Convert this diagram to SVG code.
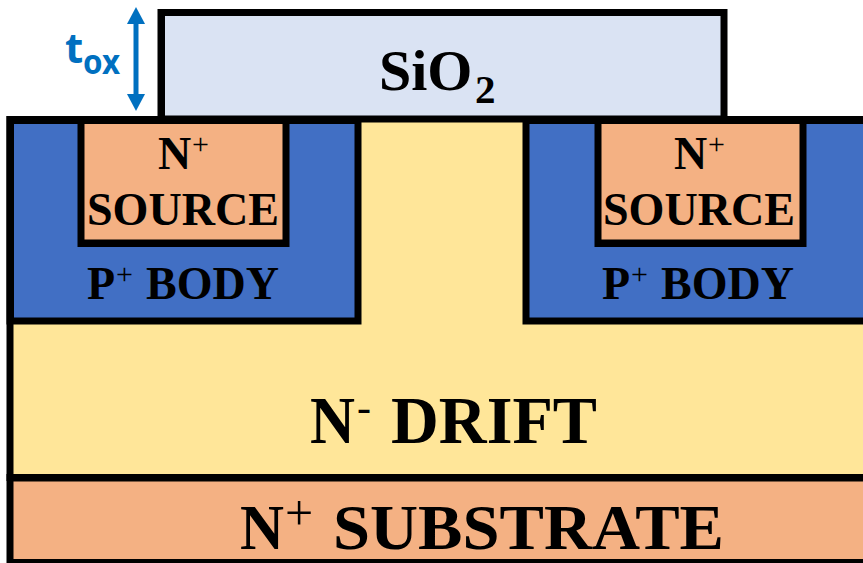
<svg xmlns="http://www.w3.org/2000/svg" width="863" height="563" viewBox="0 0 863 563">
<style>
.s{font-family:"Liberation Serif","Times New Roman",serif;font-weight:bold;fill:#000}
.t{font-weight:normal}
.k{fill:#000}
.b{fill:#416FC4}
.o{fill:#F4B183}
.y{fill:#FFE699}
.g{fill:#DAE3F3}
</style>
<defs>
<marker id="head" markerUnits="userSpaceOnUse" markerWidth="18" markerHeight="18" refX="0" refY="9" orient="auto-start-reverse" viewBox="0 0 18 18">
<path d="M0 0L17 9L0 18Z" fill="#0070C0"/>
</marker>
</defs>
<rect width="863" height="563" fill="#fff"/>
<g id="substrate">
<rect class="k" x="6.500" y="474" width="856.500" height="89"/>
<rect class="o" x="13.500" y="481.500" width="849.500" height="77.500"/>
<text class="s" y="549" font-size="63"><tspan x="240" textLength="44" lengthAdjust="spacingAndGlyphs">N</tspan><tspan class="t" x="285" dy="-19" font-size="50">+ </tspan><tspan x="333" dy="19" textLength="391" lengthAdjust="spacingAndGlyphs">SUBSTRATE</tspan></text>
</g>
<g id="drift">
<rect class="k" x="6.500" y="116" width="856.500" height="365"/>
<rect class="y" x="13.500" y="122.500" width="849.500" height="351.500"/>
<text class="s" y="443" font-size="68"><tspan x="310" textLength="45" lengthAdjust="spacingAndGlyphs">N</tspan><tspan class="t" x="357" dy="-22" font-size="42">- </tspan><tspan x="391" dy="22" textLength="206" lengthAdjust="spacingAndGlyphs">DRIFT</tspan></text>
</g>
<g id="body-left">
<rect class="k" x="6.500" y="116" width="355" height="208.500"/>
<rect class="b" x="14" y="124" width="340.500" height="193.500"/>
<text class="s" y="299" font-size="46"><tspan x="87">P</tspan><tspan class="t" x="116" dy="-15" font-size="30">+ </tspan><tspan x="146" dy="15">BODY</tspan></text>
</g>
<g id="source-left">
<rect class="k" x="77.500" y="120" width="212" height="127"/>
<rect class="o" x="84.500" y="124" width="198" height="115.500"/>
<text class="s" y="169" font-size="46"><tspan x="158">N</tspan><tspan class="t" x="192" dy="-15" font-size="30">+</tspan></text>
<text class="s" x="87" y="225" font-size="46" textLength="192" lengthAdjust="spacingAndGlyphs">SOURCE</text>
</g>
<g id="body-right">
<rect class="k" x="522.500" y="116" width="340.500" height="208.500"/>
<rect class="b" x="529.500" y="124" width="333.500" height="193.500"/>
<text class="s" y="299" font-size="46"><tspan x="602">P</tspan><tspan class="t" x="631" dy="-15" font-size="30">+ </tspan><tspan x="661" dy="15">BODY</tspan></text>
</g>
<g id="source-right">
<rect class="k" x="594.500" y="120" width="212" height="127"/>
<rect class="o" x="601.500" y="124" width="198" height="115.500"/>
<text class="s" y="169" font-size="46"><tspan x="674">N</tspan><tspan class="t" x="708" dy="-15" font-size="30">+</tspan></text>
<text class="s" x="603" y="225" font-size="46" textLength="192" lengthAdjust="spacingAndGlyphs">SOURCE</text>
</g>
<g id="oxide">
<rect class="k" x="157.500" y="9" width="570" height="112"/>
<rect class="g" x="165" y="16" width="555.500" height="99.500"/>
<text class="s" y="90" font-size="58"><tspan x="379">SiO</tspan><tspan x="475" dy="13" font-size="41">2</tspan></text>
</g>
<g id="connectors">
<line x1="136" y1="24" x2="136" y2="94" stroke="#0070C0" stroke-width="5" marker-start="url(#head)" marker-end="url(#head)"/>
</g>
<g id="tox-label">
<text y="63" font-family="'Noto Sans','Open Sans',sans-serif" font-weight="bold" font-size="42" fill="#0070C0"><tspan x="65">t</tspan><tspan x="83" dy="11" font-size="34" textLength="37" lengthAdjust="spacingAndGlyphs">ox</tspan></text>
</g>
</svg>
